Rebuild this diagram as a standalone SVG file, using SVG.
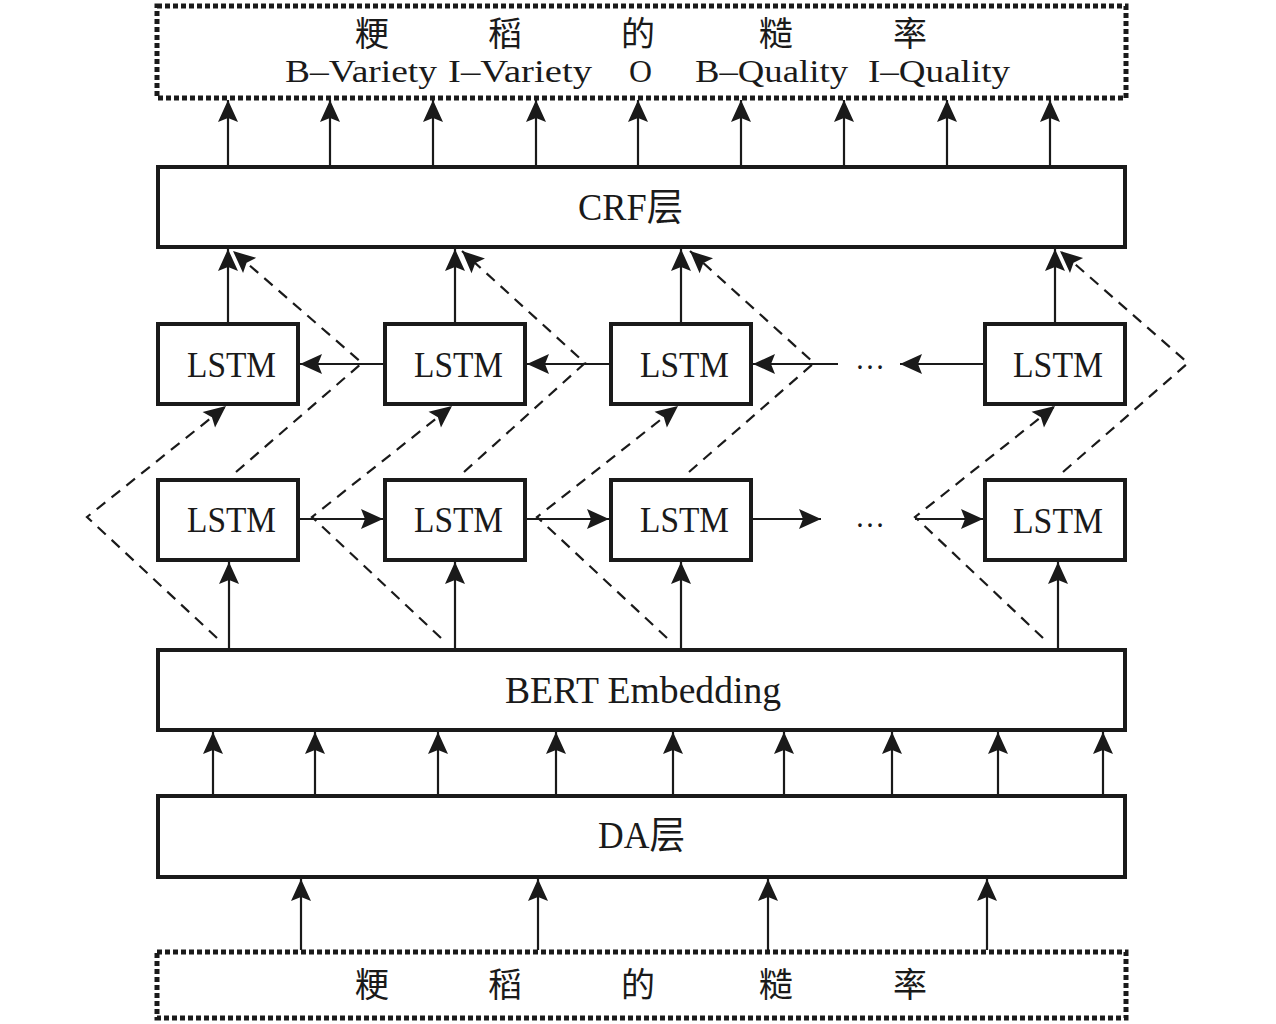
<svg xmlns="http://www.w3.org/2000/svg" width="1276" height="1024" viewBox="0 0 1276 1024">
<style>
.box{fill:#fff;stroke:#1a1a1a;stroke-width:4}
.dot{fill:#fff;stroke:#1a1a1a;stroke-width:5;stroke-dasharray:5 3}
.ln{fill:none;stroke:#1a1a1a;stroke-width:2.2}
.ds{fill:none;stroke:#1a1a1a;stroke-width:2.2;stroke-dasharray:11 8}
.t{font-family:"Liberation Serif","Noto Sans CJK SC",serif;fill:#1a1a1a}
.cjk{font-family:"Noto Sans CJK SC","Liberation Serif",serif;font-size:34px;fill:#1a1a1a;text-anchor:middle}
</style>
<defs>
<marker id="ah" markerUnits="userSpaceOnUse" viewBox="-24 -12 26 24" refX="0" refY="0" markerWidth="26" markerHeight="24" orient="auto">
<path d="M0,0 L-22,-10 L-18,0 L-22,10 Z" fill="#1a1a1a"/>
</marker>
</defs>
<rect width="1276" height="1024" fill="#fff"/>

<g id="output">
<rect class="dot" x="157" y="6" width="969" height="92"/>
<text class="cjk" x="372" y="46">粳</text>
<text class="cjk" x="505" y="46">稻</text>
<text class="cjk" x="638" y="46">的</text>
<text class="cjk" x="776" y="46">糙</text>
<text class="cjk" x="910" y="46">率</text>
<text class="t" font-size="31" x="285" y="82" textLength="152" lengthAdjust="spacingAndGlyphs">B–Variety</text>
<text class="t" font-size="31" x="448" y="82" textLength="144" lengthAdjust="spacingAndGlyphs">I–Variety</text>
<text class="t" font-size="32" x="629" y="82" textLength="23" lengthAdjust="spacingAndGlyphs">O</text>
<text class="t" font-size="31" x="695" y="82" textLength="153" lengthAdjust="spacingAndGlyphs">B–Quality</text>
<text class="t" font-size="31" x="868" y="82" textLength="142" lengthAdjust="spacingAndGlyphs">I–Quality</text>
</g>

<g id="crf">
<rect class="box" x="158" y="167" width="967" height="80"/>
<text class="t" font-size="38" x="578" y="220" textLength="105" lengthAdjust="spacingAndGlyphs">CRF层</text>
</g>

<g id="lstm-b1"><rect class="box" x="158" y="324" width="140" height="80"/><text class="t" font-size="36" x="187" y="377" textLength="89" lengthAdjust="spacingAndGlyphs">LSTM</text></g>
<g id="lstm-b2"><rect class="box" x="385" y="324" width="140" height="80"/><text class="t" font-size="36" x="414" y="377" textLength="89" lengthAdjust="spacingAndGlyphs">LSTM</text></g>
<g id="lstm-b3"><rect class="box" x="611" y="324" width="140" height="80"/><text class="t" font-size="36" x="640" y="377" textLength="89" lengthAdjust="spacingAndGlyphs">LSTM</text></g>
<g id="lstm-b4"><rect class="box" x="985" y="324" width="140" height="80"/><text class="t" font-size="36" x="1013" y="377" textLength="90" lengthAdjust="spacingAndGlyphs">LSTM</text></g>

<g id="lstm-f1"><rect class="box" x="158" y="480" width="140" height="80"/><text class="t" font-size="36" x="187" y="532" textLength="89" lengthAdjust="spacingAndGlyphs">LSTM</text></g>
<g id="lstm-f2"><rect class="box" x="385" y="480" width="140" height="80"/><text class="t" font-size="36" x="414" y="532" textLength="89" lengthAdjust="spacingAndGlyphs">LSTM</text></g>
<g id="lstm-f3"><rect class="box" x="611" y="480" width="140" height="80"/><text class="t" font-size="36" x="640" y="532" textLength="89" lengthAdjust="spacingAndGlyphs">LSTM</text></g>
<g id="lstm-f4"><rect class="box" x="985" y="480" width="140" height="80"/><text class="t" font-size="36" x="1013" y="533" textLength="90" lengthAdjust="spacingAndGlyphs">LSTM</text></g>

<g id="ellipsis">
<text class="t" font-size="32" x="855" y="369" textLength="30" lengthAdjust="spacingAndGlyphs">…</text>
<text class="t" font-size="32" x="855" y="527" textLength="30" lengthAdjust="spacingAndGlyphs">…</text>
</g>

<g id="bert">
<rect class="box" x="158" y="650" width="967" height="80"/>
<text class="t" font-size="38" x="505" y="703" textLength="276" lengthAdjust="spacingAndGlyphs">BERT Embedding</text>
</g>

<g id="da">
<rect class="box" x="158" y="796" width="967" height="81"/>
<text class="t" font-size="38" x="598" y="848" textLength="87" lengthAdjust="spacingAndGlyphs">DA层</text>
</g>

<g id="input">
<rect class="dot" x="157" y="952" width="969" height="66"/>
<text class="cjk" x="372" y="997">粳</text>
<text class="cjk" x="505" y="997">稻</text>
<text class="cjk" x="638" y="997">的</text>
<text class="cjk" x="776" y="997">糙</text>
<text class="cjk" x="910" y="997">率</text>
</g>

<g id="connectors">
<path class="ln" d="M228,165V100" marker-end="url(#ah)"/>
<path class="ln" d="M330,165V100" marker-end="url(#ah)"/>
<path class="ln" d="M433,165V100" marker-end="url(#ah)"/>
<path class="ln" d="M536,165V100" marker-end="url(#ah)"/>
<path class="ln" d="M638,165V100" marker-end="url(#ah)"/>
<path class="ln" d="M741,165V100" marker-end="url(#ah)"/>
<path class="ln" d="M844,165V100" marker-end="url(#ah)"/>
<path class="ln" d="M947,165V100" marker-end="url(#ah)"/>
<path class="ln" d="M1050,165V100" marker-end="url(#ah)"/>

<path class="ln" d="M228,322V249" marker-end="url(#ah)"/>
<path class="ln" d="M455,322V249" marker-end="url(#ah)"/>
<path class="ln" d="M681,322V249" marker-end="url(#ah)"/>
<path class="ln" d="M1055,322V249" marker-end="url(#ah)"/>

<path class="ln" d="M385,364H300" marker-end="url(#ah)"/>
<path class="ln" d="M611,364H527" marker-end="url(#ah)"/>
<path class="ln" d="M838,364H753" marker-end="url(#ah)"/>
<path class="ln" d="M985,364H900" marker-end="url(#ah)"/>

<path class="ln" d="M298,519H383" marker-end="url(#ah)"/>
<path class="ln" d="M525,519H609" marker-end="url(#ah)"/>
<path class="ln" d="M751,519H821" marker-end="url(#ah)"/>
<path class="ln" d="M915,519H983" marker-end="url(#ah)"/>

<path class="ln" d="M229,648V562" marker-end="url(#ah)"/>
<path class="ln" d="M455,648V562" marker-end="url(#ah)"/>
<path class="ln" d="M681,648V562" marker-end="url(#ah)"/>
<path class="ln" d="M1058,648V562" marker-end="url(#ah)"/>

<path class="ln" d="M213,794V732" marker-end="url(#ah)"/>
<path class="ln" d="M315,794V732" marker-end="url(#ah)"/>
<path class="ln" d="M438,794V732" marker-end="url(#ah)"/>
<path class="ln" d="M556,794V732" marker-end="url(#ah)"/>
<path class="ln" d="M673,794V732" marker-end="url(#ah)"/>
<path class="ln" d="M784,794V732" marker-end="url(#ah)"/>
<path class="ln" d="M892,794V732" marker-end="url(#ah)"/>
<path class="ln" d="M998,794V732" marker-end="url(#ah)"/>
<path class="ln" d="M1103,794V732" marker-end="url(#ah)"/>

<path class="ln" d="M301,950V879" marker-end="url(#ah)"/>
<path class="ln" d="M538,950V879" marker-end="url(#ah)"/>
<path class="ln" d="M768,950V879" marker-end="url(#ah)"/>
<path class="ln" d="M987,950V879" marker-end="url(#ah)"/>

<path class="ds" d="M217,638L87,517L226,406" marker-end="url(#ah)"/>
<path class="ds" d="M441,638L312,517L452,406" marker-end="url(#ah)"/>
<path class="ds" d="M667,638L537,517L678,406" marker-end="url(#ah)"/>
<path class="ds" d="M1043,638L915,517L1055,406" marker-end="url(#ah)"/>

<path class="ds" d="M236,472L362,363L233,251" marker-end="url(#ah)"/>
<path class="ds" d="M464,472L585,363L462,251" marker-end="url(#ah)"/>
<path class="ds" d="M689,472L814,363L690,251" marker-end="url(#ah)"/>
<path class="ds" d="M1063,472L1188,363L1060,251" marker-end="url(#ah)"/>
</g>
</svg>
